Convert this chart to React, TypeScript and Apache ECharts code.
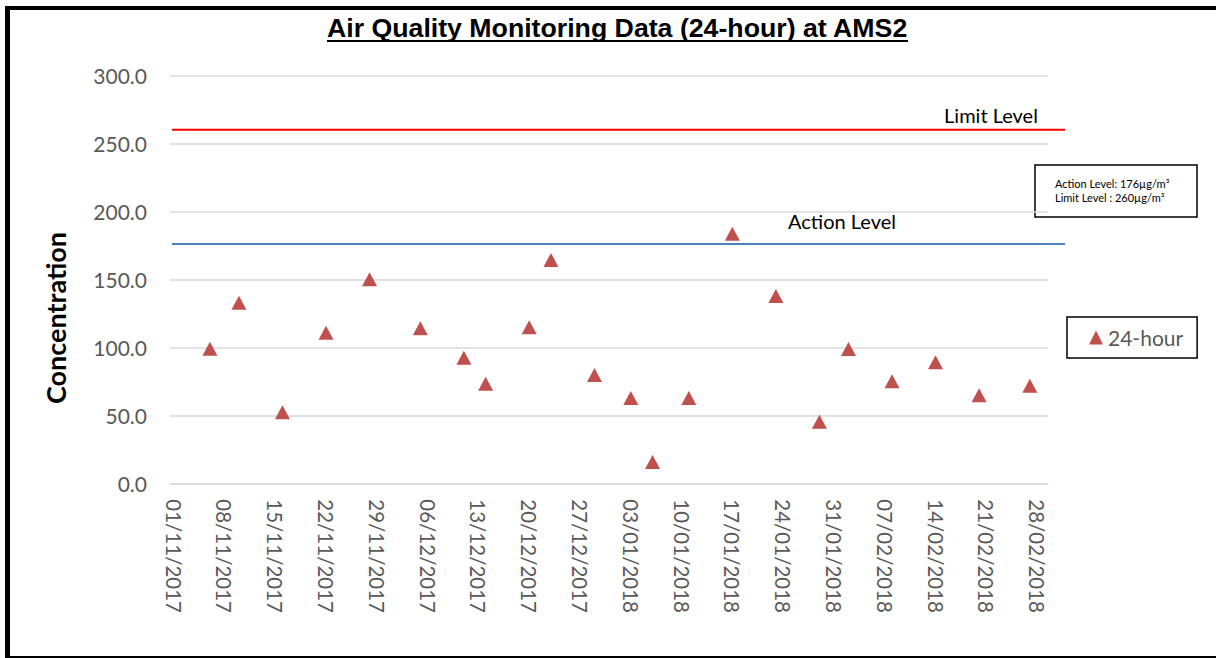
import React, { useEffect, useRef } from "react";
import * as echarts from "echarts";

// ---- data ----
const axisStartUTC = Date.UTC(2017, 10, 1); // 01/11/2017
const axisDayCount = 121; // 01/11/2017 .. 01/03/2018

const sampleDates = [
  "06/11/2017", "10/11/2017", "16/11/2017", "22/11/2017", "28/11/2017",
  "05/12/2017", "11/12/2017", "14/12/2017", "20/12/2017", "23/12/2017",
  "29/12/2017", "03/01/2018", "06/01/2018", "11/01/2018", "17/01/2018",
  "23/01/2018", "29/01/2018", "02/02/2018", "08/02/2018", "14/02/2018",
  "20/02/2018", "27/02/2018",
];
const concentration24h = [
  98.9, 132.8, 52.2, 110.7, 150.0,
  114.0, 92.4, 73.2, 114.7, 164.2,
  79.6, 62.7, 15.7, 62.7, 183.5,
  137.7, 45.3, 98.8, 75.0, 89.0,
  64.7, 71.8,
];
const limitLevel = 260;
const actionLevel = 176;
const yTicks = [0, 50, 100, 150, 200, 250, 300];

const CAL = "Lato, Open Sans, sans-serif";
const ARIAL = "Liberation Sans, Arial, sans-serif";

function fmtDate(ms: number): string {
  const d = new Date(ms);
  const dd = String(d.getUTCDate()).padStart(2, "0");
  const mm = String(d.getUTCMonth() + 1).padStart(2, "0");
  return `${dd}/${mm}/${d.getUTCFullYear()}`;
}

export default function App() {
  const ref = useRef<HTMLDivElement>(null);

  useEffect(() => {
    document.body.style.margin = "0";
    if (!ref.current) return;
    const chart = echarts.init(ref.current, undefined, { renderer: "svg" });

    const dayCategories: string[] = [];
    for (let i = 0; i < axisDayCount; i++) {
      dayCategories.push(fmtDate(axisStartUTC + i * 86400000));
    }

    const option: any = {
      animation: false,
      backgroundColor: "#ffffff",
      title: {
        text: "Air Quality Monitoring Data (24-hour) at AMS2",
        left: 327,
        top: 14,
        padding: 0,
        textStyle: {
          fontFamily: ARIAL,
          fontWeight: "bold",
          fontSize: 26.7,
          color: "#000000",
        },
      },
      legend: {
        data: ["24-hour"],
        left: 1067,
        top: 317,
        orient: "vertical",
        padding: [10, 14, 10, 22],
        borderColor: "#000000",
        borderWidth: 1.5,
        backgroundColor: "#ffffff",
        itemWidth: 14,
        itemHeight: 14,
        icon: "triangle",
        textStyle: { fontFamily: CAL, fontSize: 21, color: "#595959" },
      },
      grid: [
        { left: 170, right: 168, top: 75.3, height: 408 },
        { left: 172, right: 151, top: 75.3, height: 408 },
      ],
      xAxis: [
        {
          type: "category",
          gridIndex: 0,
          data: dayCategories,
          boundaryGap: true,
          axisLine: { show: true, lineStyle: { color: "#D9D9D9", width: 1.5 } },
          axisTick: { show: false },
          splitLine: { show: false },
          axisLabel: {
            interval: 6,
            rotate: -90,
            margin: 16,
            color: "#595959",
            fontFamily: CAL,
            fontSize: 20.5,
          },
        },
        { type: "value", gridIndex: 1, min: 0, max: 1, show: false },
      ],
      yAxis: [
        {
          type: "value",
          gridIndex: 0,
          min: yTicks[0],
          max: yTicks[yTicks.length - 1],
          interval: 50,
          axisLine: { show: false },
          axisTick: { show: false },
          splitLine: { lineStyle: { color: "#D9D9D9", width: 1.5 } },
          axisLabel: {
            margin: 23,
            color: "#595959",
            fontFamily: CAL,
            fontSize: 21,
            formatter: (v: number) => v.toFixed(1),
          },
        },
        { type: "value", gridIndex: 1, min: 0, max: 300, show: false },
      ],
      graphic: [
        { type: "rect", shape: { x: 5, y: 6, width: 5, height: 652 }, style: { fill: "#000" }, silent: true },
        { type: "rect", shape: { x: 5, y: 6, width: 1211, height: 4 }, style: { fill: "#000" }, silent: true },
        { type: "rect", shape: { x: 5, y: 656, width: 1211, height: 2 }, style: { fill: "#000" }, silent: true },
        {
          type: "line",
          shape: { x1: 327, y1: 41, x2: 908, y2: 41 },
          style: { stroke: "#000", lineWidth: 2 },
          silent: true,
        },
        {
          type: "text",
          x: 55,
          y: 318,
          rotation: Math.PI / 2,
          style: {
            text: "Concentration",
            fontFamily: CAL,
            fontWeight: "bold",
            fontSize: 27,
            fill: "#000",
            align: "center",
            verticalAlign: "middle",
          },
        },
        {
          type: "text",
          x: 991,
          y: 115,
          style: {
            text: "Limit Level",
            fontFamily: CAL,
            fontSize: 20,
            fill: "#000",
            align: "center",
            verticalAlign: "middle",
          },
        },
        {
          type: "text",
          x: 842,
          y: 221,
          style: {
            text: "Action Level",
            fontFamily: CAL,
            fontSize: 20,
            fill: "#000",
            align: "center",
            verticalAlign: "middle",
          },
        },
        {
          type: "group",
          children: [
            {
              type: "rect",
              shape: { x: 1035, y: 165, width: 162, height: 52 },
              style: { fill: "#fff", stroke: "#000", lineWidth: 1.5 },
            },
            {
              type: "text",
              x: 1055,
              y: 183.3,
              style: {
                text: "Action Level: 176µg/m³",
                fontFamily: CAL,
                fontSize: 11,
                fill: "#000",
                align: "left",
                verticalAlign: "middle",
              },
            },
            {
              type: "text",
              x: 1055,
              y: 197.7,
              style: {
                text: "Limit Level : 260µg/m³",
                fontFamily: CAL,
                fontSize: 11,
                fill: "#000",
                align: "left",
                verticalAlign: "middle",
              },
            },
          ],
        },
      ],
      series: [
        {
          name: "Limit Level",
          type: "line",
          xAxisIndex: 1,
          yAxisIndex: 1,
          data: [[0, limitLevel], [1, limitLevel]],
          symbol: "none",
          lineStyle: { color: "#FF0000", width: 2 },
          silent: true,
        },
        {
          name: "Action Level",
          type: "line",
          xAxisIndex: 1,
          yAxisIndex: 1,
          data: [[0, actionLevel], [1, actionLevel]],
          symbol: "none",
          lineStyle: { color: "#4F81BD", width: 2 },
          silent: true,
        },
        {
          name: "24-hour",
          type: "scatter",
          xAxisIndex: 0,
          yAxisIndex: 0,
          data: sampleDates.map((d, i) => [d, concentration24h[i]]),
          symbol: "triangle",
          symbolSize: [15, 14],
          itemStyle: { color: "#C0504D", opacity: 1 },
          z: 5,
        },
      ],
    };

    chart.setOption(option);
    return () => chart.dispose();
  }, []);

  return (
    <div
      ref={ref}
      style={{ width: 1216, height: 658, overflow: "hidden" }}
    />
  );
}
